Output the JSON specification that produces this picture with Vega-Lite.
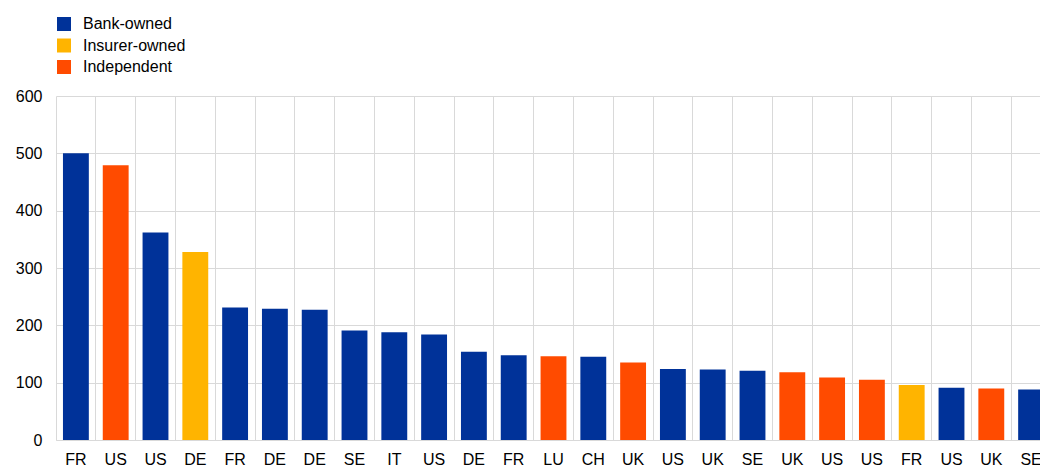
{
  "$schema": "https://vega.github.io/schema/vega-lite/v6.json",
  "autosize": "none",
  "width": 984,
  "height": 344,
  "padding": {"left": 56, "top": 96, "right": 0, "bottom": 26},
  "background": "white",
  "config": {
    "font": "Arial, Liberation Sans, sans-serif",
    "view": {"stroke": null}
  },
  "data": {
    "values": [
      {"key": "FR#1", "value": 500, "type": "Bank-owned"},
      {"key": "US#2", "value": 479, "type": "Independent"},
      {"key": "US#3", "value": 362, "type": "Bank-owned"},
      {"key": "DE#4", "value": 328, "type": "Insurer-owned"},
      {"key": "FR#5", "value": 231, "type": "Bank-owned"},
      {"key": "DE#6", "value": 229, "type": "Bank-owned"},
      {"key": "DE#7", "value": 227, "type": "Bank-owned"},
      {"key": "SE#8", "value": 191, "type": "Bank-owned"},
      {"key": "IT#9", "value": 188, "type": "Bank-owned"},
      {"key": "US#10", "value": 184, "type": "Bank-owned"},
      {"key": "DE#11", "value": 154, "type": "Bank-owned"},
      {"key": "FR#12", "value": 148, "type": "Bank-owned"},
      {"key": "LU#13", "value": 146, "type": "Independent"},
      {"key": "CH#14", "value": 145, "type": "Bank-owned"},
      {"key": "UK#15", "value": 135, "type": "Independent"},
      {"key": "US#16", "value": 124, "type": "Bank-owned"},
      {"key": "UK#17", "value": 123, "type": "Bank-owned"},
      {"key": "SE#18", "value": 121, "type": "Bank-owned"},
      {"key": "UK#19", "value": 118, "type": "Independent"},
      {"key": "US#20", "value": 109, "type": "Independent"},
      {"key": "US#21", "value": 105, "type": "Independent"},
      {"key": "FR#22", "value": 96, "type": "Insurer-owned"},
      {"key": "US#23", "value": 91, "type": "Bank-owned"},
      {"key": "UK#24", "value": 90, "type": "Independent"},
      {"key": "SE#25", "value": 88, "type": "Bank-owned"}
    ]
  },
  "resolve": {"axis": {"x": "independent"}},
  "layer": [
    {
      "mark": {"type": "bar", "opacity": 0},
      "encoding": {
        "x": {
          "field": "key", "type": "nominal", "sort": null,
          "scale": {"paddingInner": 0, "paddingOuter": 0, "range": [0, 995]},
          "axis": {"title": null, "orient": "top", "labels": false, "ticks": false, "domain": false, "grid": true, "bandPosition": 0, "gridColor": "#d9d9d9", "gridWidth": 1}
        },
        "y": {"field": "value", "type": "quantitative"}
      }
    },
    {
      "mark": {"type": "bar", "width": {"band": 0.65}},
      "encoding": {
        "x": {
          "field": "key", "type": "nominal", "sort": null,
          "axis": {"title": null, "orient": "bottom", "labelExpr": "split(datum.label, '#')[0]", "labelAngle": 0, "labelFontSize": 16, "labelColor": "#000000", "labelPadding": 11, "ticks": false, "grid": false, "domain": true, "domainColor": "#d9d9d9", "domainWidth": 1}
        },
        "y": {
          "field": "value", "type": "quantitative",
          "scale": {"domain": [0, 600], "nice": false},
          "axis": {"title": null, "values": [0, 100, 200, 300, 400, 500, 600], "labelFontSize": 16, "labelColor": "#000000", "labelPadding": 14, "ticks": false, "domain": false, "grid": true, "gridColor": "#d9d9d9", "gridWidth": 1}
        },
        "color": {
          "field": "type", "type": "nominal",
          "scale": {"domain": ["Bank-owned", "Insurer-owned", "Independent"], "range": ["#003299", "#ffb400", "#ff4b00"]},
          "legend": {"title": null, "orient": "none", "legendX": 0, "legendY": -80, "symbolType": "square", "symbolSize": 196, "symbolStrokeWidth": 0, "symbolOpacity": 1, "labelFontSize": 16, "labelColor": "#000000", "labelOffset": 11, "rowPadding": 5.5, "padding": 0}
        }
      }
    }
  ]
}
